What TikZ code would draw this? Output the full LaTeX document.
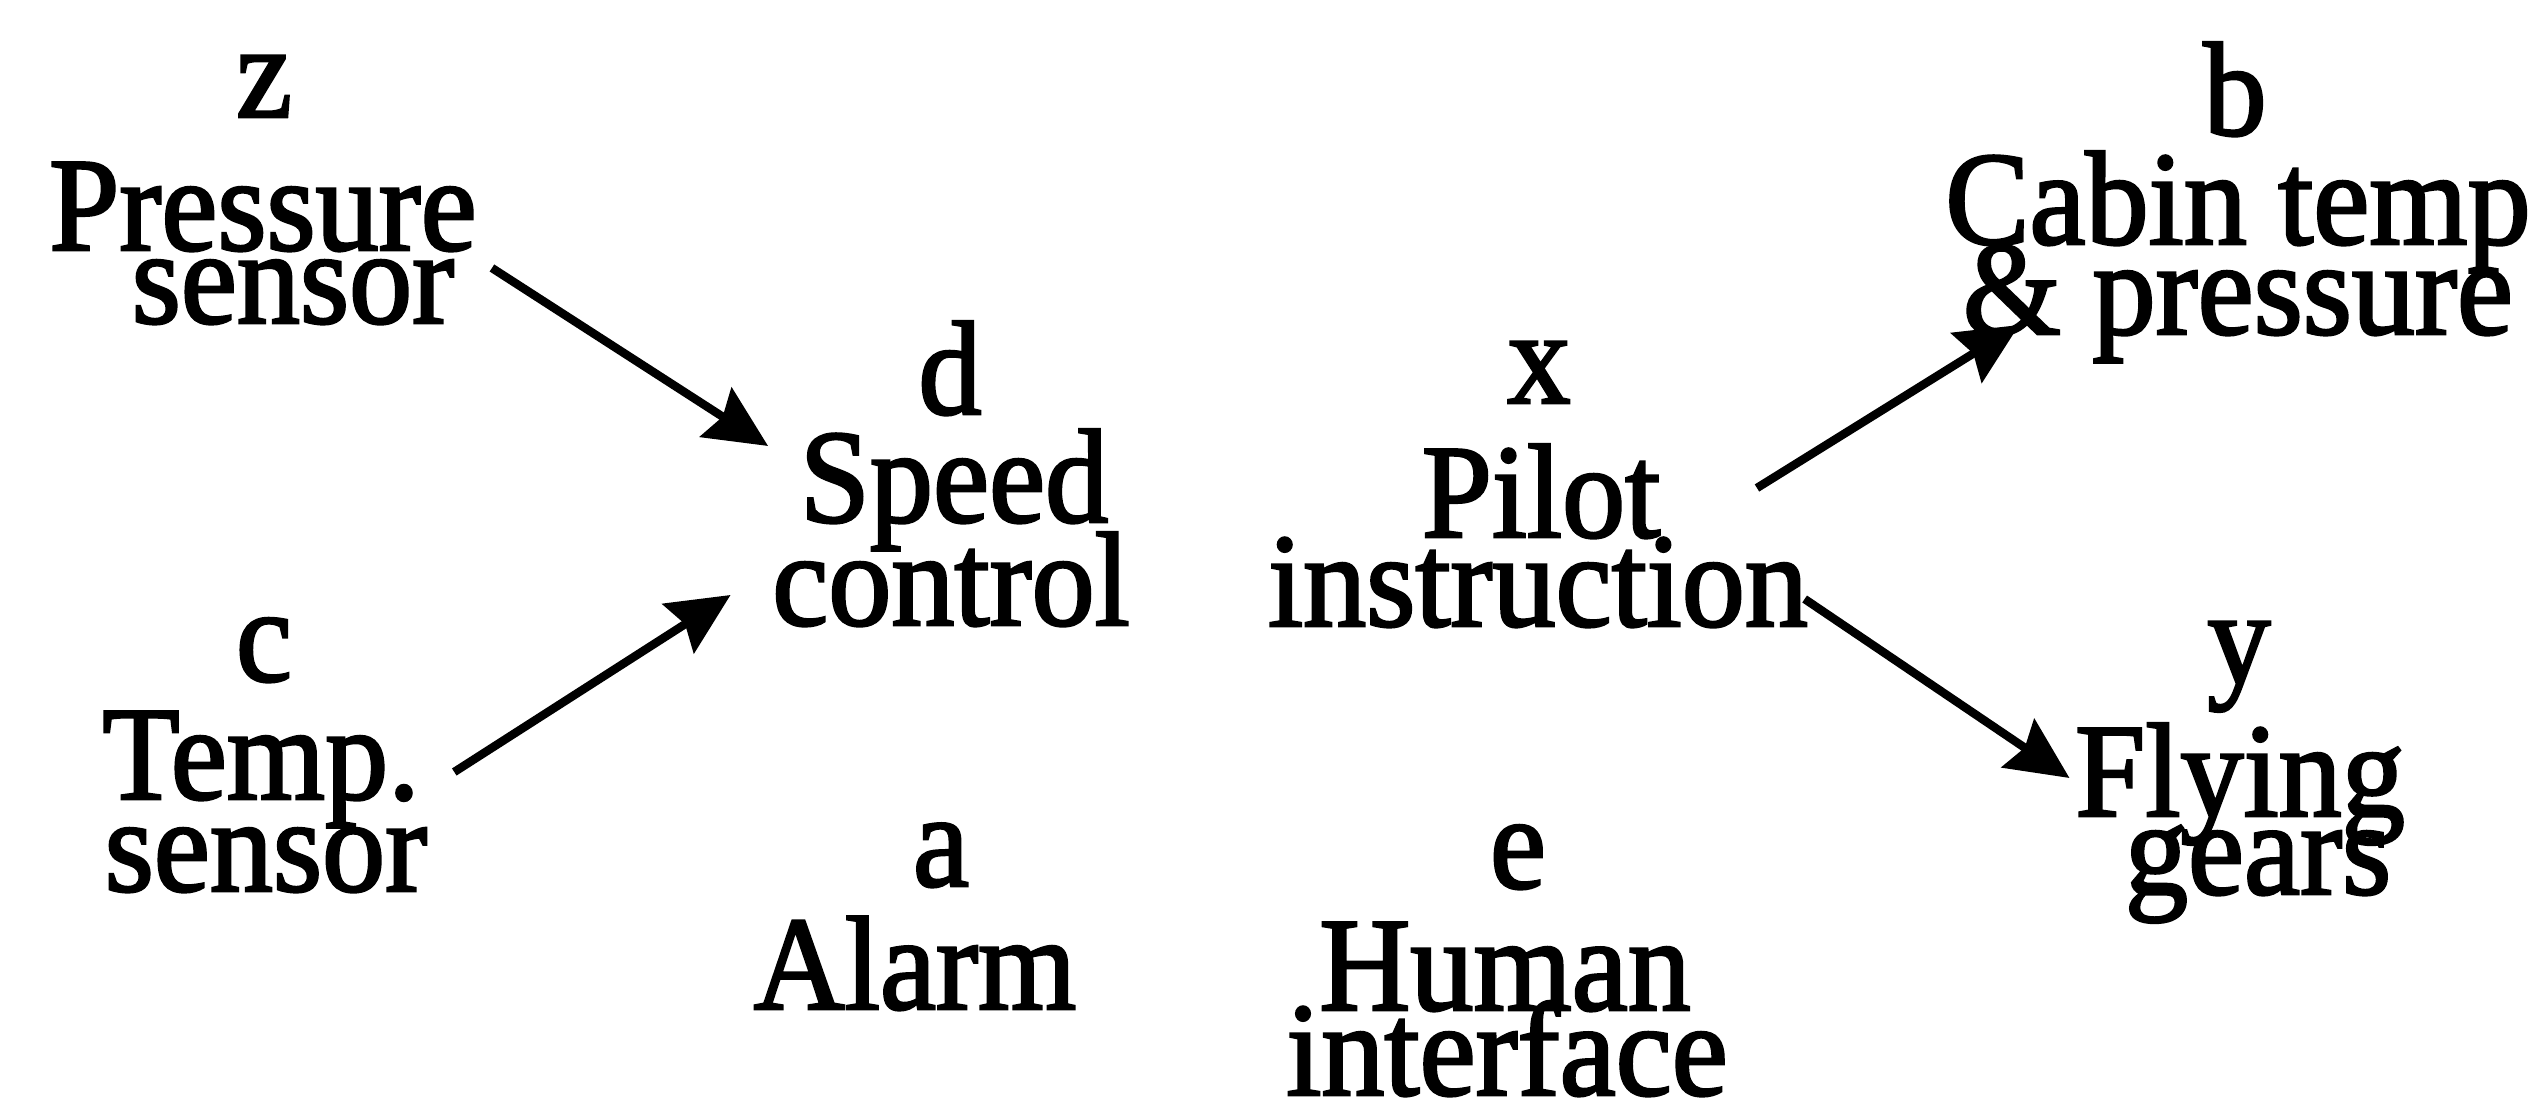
\documentclass[tikz,border=0pt]{standalone}
\usepackage{fontspec}
\setmainfont{Liberation Serif}[FakeStretch=0.945,FakeBold=2]
\usetikzlibrary{arrows.meta,positioning}

\begin{document}
\begin{tikzpicture}[
    var/.style={anchor=base,inner sep=0pt,font=\fontsize{38}{38}\selectfont},
    ln/.style={anchor=base,inner sep=0pt,text height=0.62cm,text depth=0.1cm,font=\fontsize{38}{38}\selectfont},
    arr/.style={line width=2.4pt,-{Stealth[length=6.2mm,width=5.8mm,inset=0.8mm]}}
]
\useasboundingbox (0,0) rectangle (25.4,-11.18);

\node[var] (z) at (2.64,-1.17) {z};
\node[ln] (pres1) at (2.63,-2.50) {Pressure};
\node[ln] (pres2) at (2.93,-3.23) {sensor};

\node[var] (b) at (22.35,-1.35) {b};
\node[ln] (cab1) at (22.38,-2.44) {Cabin temp};
\node[ln] (cab2) at (22.38,-3.34) {\& pressure};

\node[var] (d) at (9.50,-4.14) {d};
\node[ln] (spd1) at (9.54,-5.22) {Speed};
\node[ln] (spd2) at (9.51,-6.25) {control};

\node[var] (x) at (15.39,-4.03) {x};
\node[ln] (pil1) at (15.41,-5.37) {Pilot};
\node[ln] (pil2) at (15.38,-6.26) {instruction};

\node[var] (c) at (2.64,-6.81) {c};
\node[ln] (tmp1) at (2.61,-7.99) {Temp.};
\node[ln] (tmp2) at (2.66,-8.91) {sensor};

\node[var] (y) at (22.39,-6.83) {y};
\node[ln] (fly1) at (22.40,-8.16) {Flying};
\node[ln] (fly2) at (22.58,-8.94) {gears};

\node[var] (a) at (9.41,-8.86) {a};
\node[ln] (alm) at (9.15,-10.09) {Alarm};

\node[var] (e) at (15.18,-8.88) {e};
\node[ln] (hum1) at (15.05,-10.10) {Human};
\node[ln] (hum2) at (15.07,-10.95) {interface};

\draw[arr] ([xshift=0.37cm,yshift=0.55cm]pres2.base east) -- ([xshift=-0.31cm,yshift=0.76cm]spd1.base west);
\draw[arr] ([xshift=0.34cm,yshift=0.27cm]tmp1.base east) -- ([xshift=-0.41cm,yshift=0.30cm]spd2.base west);
\draw[arr] ([xshift=0.96cm,yshift=0.49cm]pil1.base east) -- ([xshift=0.57cm,yshift=0.09cm]cab2.base west);
\draw[arr] ([xshift=-0.04cm,yshift=0.27cm]pil2.base east) -- ([xshift=-0.05cm,yshift=0.38cm]fly1.base west);
\end{tikzpicture}
\end{document}
